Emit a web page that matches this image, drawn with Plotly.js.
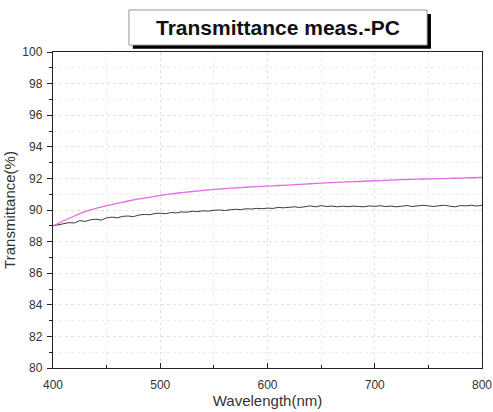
<!DOCTYPE html>
<html>
<head>
<meta charset="utf-8">
<script src="https://cdn.plot.ly/plotly-3.0.1.min.js"></script>
<style>html,body{margin:0;padding:0;background:#fff;}#chart{width:493px;height:412px;}</style>
</head>
<body>
<div id="chart"></div>
<script>
// Pink curve (smooth), wavelength every 10 nm
const pinkWavelength = [400,410,420,430,440,450,460,470,480,490,500,510,520,530,540,550,560,570,580,590,600,610,620,630,640,650,660,670,680,690,700,710,720,730,740,750,760,770,780,790,800];
const pinkTransmittance = [89.00,89.32,89.62,89.90,90.10,90.27,90.42,90.57,90.70,90.80,90.92,91.02,91.10,91.17,91.24,91.30,91.35,91.40,91.44,91.48,91.51,91.55,91.58,91.62,91.66,91.70,91.73,91.76,91.79,91.82,91.85,91.88,91.91,91.93,91.95,91.97,91.98,92.00,92.02,92.04,92.06];

// Black curve (noisy), wavelength every 5 nm
const blackWavelength = [400,405,410,415,420,425,430,435,440,445,450,455,460,465,470,475,480,485,490,495,500,505,510,515,520,525,530,535,540,545,550,555,560,565,570,575,580,585,590,595,600,605,610,615,620,625,630,635,640,645,650,655,660,665,670,675,680,685,690,695,700,705,710,715,720,725,730,735,740,745,750,755,760,765,770,775,780,785,790,795,800];
const blackTransmittance = [89.00,89.08,89.12,89.20,89.18,89.33,89.28,89.38,89.42,89.36,89.50,89.55,89.50,89.60,89.62,89.58,89.68,89.72,89.70,89.78,89.80,89.76,89.84,89.82,89.88,89.86,89.92,89.90,89.95,89.93,89.98,90.00,89.97,90.03,90.05,90.02,90.08,90.06,90.10,90.08,90.12,90.10,90.16,90.14,90.18,90.20,90.16,90.22,90.26,90.20,90.28,90.22,90.25,90.20,90.24,90.21,90.25,90.22,90.20,90.26,90.23,90.27,90.22,90.25,90.20,90.24,90.28,90.22,90.25,90.30,90.26,90.22,90.27,90.30,90.24,90.20,90.28,90.26,90.30,90.25,90.30];

const chartTitle = "Transmittance meas.-PC";
const xTitle = "Wavelength(nm)";
const yTitle = "Transmittance(%)";

const traces = [
  {x: blackWavelength, y: blackTransmittance, type: 'scatter', mode: 'lines', line: {color: '#3a3a3a', width: 1}, hoverinfo: 'skip'},
  {x: pinkWavelength, y: pinkTransmittance, type: 'scatter', mode: 'lines', line: {color: '#e36be3', width: 1.3, shape: 'spline'}, hoverinfo: 'skip'}
];

const layout = {
  width: 493, height: 412,
  margin: {l: 53, r: 11, t: 52, b: 44},
  paper_bgcolor: '#ffffff', plot_bgcolor: '#ffffff',
  showlegend: false,
  font: {family: 'Liberation Sans, Arial, sans-serif', color: '#333'},
  xaxis: {
    range: [400, 800], dtick: 100, tick0: 400, automargin: false,
    showline: true, linecolor: '#222', linewidth: 1.2, mirror: true,
    ticks: 'inside', ticklen: 5, tickcolor: '#222', ticklabelstandoff: 5,
    showgrid: true, gridcolor: '#e2e2e2', griddash: 'dot', gridwidth: 1,
    zeroline: false,
    tickfont: {size: 12, color: '#333'},
    minor: {dtick: 50, ticks: 'inside', ticklen: 3, tickcolor: '#222', showgrid: true, gridcolor: '#ebebeb', griddash: 'dot'},
    title: {text: xTitle, font: {size: 15, color: '#333'}, standoff: 3}
  },
  yaxis: {
    range: [80, 100], dtick: 2, tick0: 80, automargin: false,
    showline: true, linecolor: '#222', linewidth: 1.2, mirror: true,
    ticks: 'outside', ticklen: 5, tickcolor: '#222', ticklabelstandoff: 2,
    showgrid: true, gridcolor: '#e2e2e2', griddash: 'dot', gridwidth: 1,
    zeroline: false,
    tickfont: {size: 12, color: '#333'},
    minor: {dtick: 1, ticks: 'outside', ticklen: 3, tickcolor: '#222', showgrid: true, gridcolor: '#ebebeb', griddash: 'dot'},
    title: {text: yTitle, font: {size: 15, color: '#333'}, standoff: 3}
  },
  shapes: [
    {type: 'rect', xref: 'paper', yref: 'paper', x0: 0.186, x1: 0.881, y0: 1.010, y1: 1.120, fillcolor: '#000', line: {width: 0}, layer: 'above'},
    {type: 'rect', xref: 'paper', yref: 'paper', x0: 0.177, x1: 0.872, y0: 1.022, y1: 1.133, fillcolor: '#fff', line: {color: '#999', width: 1}, layer: 'above'}
  ],
  annotations: [
    {text: '<b>' + chartTitle + '</b>', xref: 'paper', yref: 'paper', x: 0.5245, y: 1.0775, xanchor: 'center', yanchor: 'middle', showarrow: false, font: {size: 21, color: '#111', family: 'Liberation Sans, Arial, sans-serif'}}
  ]
};

Plotly.newPlot('chart', traces, layout, {displayModeBar: false, staticPlot: true});
</script>
</body>
</html>
